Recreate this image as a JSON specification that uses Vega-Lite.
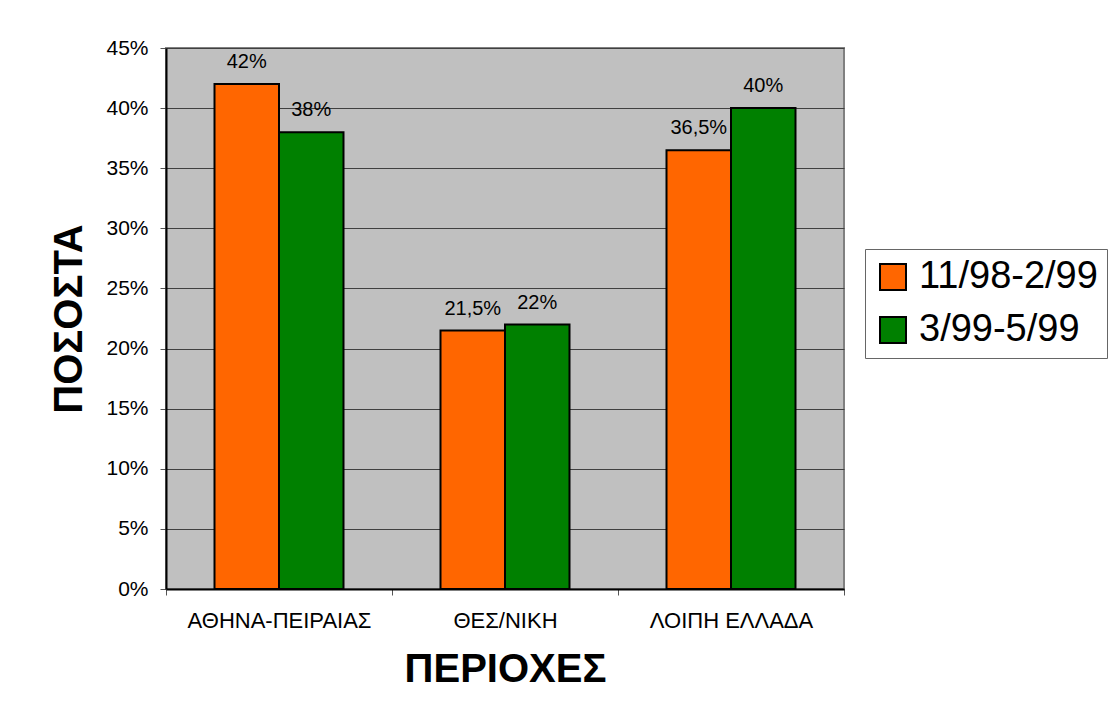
{
  "$schema": "https://vega.github.io/schema/vega-lite/v6.json",
  "autosize": {"type": "none"},
  "padding": {"left": 166, "top": 48, "right": 270, "bottom": 112},
  "width": 678,
  "height": 541,
  "background": "white",
  "data": {
    "values": [
      {"region": "ΑΘΗΝΑ-ΠΕΙΡΑΙΑΣ", "period": "11/98-2/99", "value": 0.42},
      {"region": "ΑΘΗΝΑ-ΠΕΙΡΑΙΑΣ", "period": "3/99-5/99", "value": 0.38},
      {"region": "ΘΕΣ/ΝΙΚΗ", "period": "11/98-2/99", "value": 0.215},
      {"region": "ΘΕΣ/ΝΙΚΗ", "period": "3/99-5/99", "value": 0.22},
      {"region": "ΛΟΙΠΗ ΕΛΛΑΔΑ", "period": "11/98-2/99", "value": 0.365},
      {"region": "ΛΟΙΠΗ ΕΛΛΑΔΑ", "period": "3/99-5/99", "value": 0.40}
    ]
  },
  "encoding": {
    "x": {
      "field": "region",
      "type": "nominal",
      "sort": null,
      "scale": {"paddingInner": 0, "paddingOuter": 0},
      "axis": {
        "title": "ΠΕΡΙΟΧΕΣ",
        "titleFontSize": 40,
        "titleFontWeight": "bold",
        "titlePadding": 18,
        "labelAngle": 0,
        "labelFontSize": 22,
        "labelPadding": 15,
        "labelLimit": 0,
        "labelColor": "black",
        "tickBand": "extent",
        "tickSize": 6,
        "tickColor": "#555",
        "domainColor": "black",
        "domainWidth": 2
      }
    },
    "xOffset": {
      "field": "period",
      "type": "nominal",
      "sort": ["11/98-2/99", "3/99-5/99"],
      "scale": {"paddingInner": 0, "paddingOuter": 0.752}
    },
    "y": {
      "field": "value",
      "type": "quantitative",
      "scale": {"domain": [0, 0.45], "nice": false},
      "axis": {
        "title": "ΠΟΣΟΣΤΑ",
        "titleFontSize": 40,
        "titleFontWeight": "bold",
        "titlePadding": 16,
        "format": ".0%",
        "values": [0, 0.05, 0.1, 0.15, 0.2, 0.25, 0.3, 0.35, 0.4, 0.45],
        "labelFontSize": 21,
        "labelPadding": 12,
        "labelColor": "black",
        "tickSize": 6,
        "tickColor": "#555",
        "domainColor": "black",
        "domainWidth": 2,
        "grid": true,
        "gridColor": "#404040",
        "gridWidth": 1
      }
    }
  },
  "layer": [
    {
      "mark": {"type": "bar", "stroke": "black", "strokeWidth": 2},
      "encoding": {
        "color": {
          "field": "period",
          "type": "nominal",
          "scale": {"domain": ["11/98-2/99", "3/99-5/99"], "range": ["#FF6600", "#008000"]},
          "legend": {
            "title": null,
            "orient": "none",
            "legendX": 699,
            "legendY": 201,
            "strokeColor": "#666",
            "fillColor": "white",
            "padding": 9,
            "symbolType": "square",
            "symbolSize": 676,
            "symbolStrokeColor": "black",
            "symbolStrokeWidth": 2,
            "symbolOpacity": 1,
            "labelFontSize": 38,
            "labelColor": "black",
            "labelOffset": 7,
            "labelLimit": 0,
            "rowPadding": 15
          }
        }
      }
    },
    {
      "mark": {"type": "text", "fontSize": 20, "baseline": "alphabetic", "dy": -16, "color": "black"},
      "encoding": {
        "text": {"field": "value", "type": "quantitative", "format": ".1~%"}
      }
    }
  ],
  "config": {
    "font": "Liberation Sans",
    "locale": {
      "number": {"decimal": ",", "thousands": ".", "grouping": [3], "currency": ["", " €"]}
    },
    "view": {"fill": "#C0C0C0", "stroke": "#808080", "strokeWidth": 2},
    "axis": {"titleColor": "black"}
  }
}
